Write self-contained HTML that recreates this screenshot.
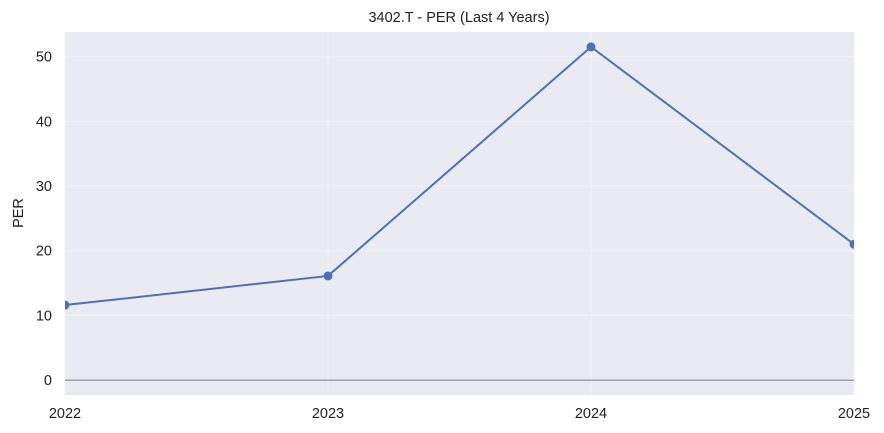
<!DOCTYPE html>
<html><head><meta charset="utf-8">
<style>
html,body{margin:0;padding:0;background:#fff;}
svg{display:block;font-family:"Liberation Sans","Noto Sans CJK JP",sans-serif;}
</style></head>
<body>
<svg id="chart" width="884" height="433" viewBox="0 0 884 433">
<defs><clipPath id="pc"><rect x="65" y="32" width="789" height="363"/></clipPath></defs>
<rect x="65" y="32" width="789" height="363" fill="#eaeaf2"/>
<g id="grid"></g>
<g id="axes"></g>
<g id="series" clip-path="url(#pc)"></g>
<text x="459" y="22" text-anchor="middle" font-size="14.5" fill="#222">3402.T - PER (Last 4 Years)</text>
<text x="23" y="213" text-anchor="middle" font-size="14.5" fill="#222" transform="rotate(-90 23 213)">PER</text>
</svg>
<script>
const categories = [2022, 2023, 2024, 2025];
const perValues = [11.6, 16.1, 51.5, 21.0];
const yTicks = [0, 10, 20, 30, 40, 50];
const NS = "http://www.w3.org/2000/svg";
const L = 65, R = 854, T = 32, B = 395;
const yMin = -2.3, yMax = 53.8;
const xScale = i => L + (R - L) * i / (categories.length - 1);
const yScale = v => B - (v - yMin) / (yMax - yMin) * (B - T);
function mk(tag, attrs, parent){const e=document.createElementNS(NS,tag);for(const k in attrs)e.setAttribute(k,attrs[k]);parent.appendChild(e);return e;}
const grid=document.getElementById('grid'), axes=document.getElementById('axes'), series=document.getElementById('series');
yTicks.forEach(t=>{
  const y=yScale(t);
  const g=mk('line',{x1:L,x2:R,y1:y,y2:y,stroke:'#f2f2f6','stroke-width':1},grid);
  
  
  const tx=mk('text',{x:52,y:y+5,'text-anchor':'end','font-size':14.5,fill:'#222'},axes);
  tx.textContent=t;
  
  
});
categories.forEach((c,i)=>{
  const x=xScale(i);
  const g=mk('line',{x1:x,x2:x,y1:T,y2:B,stroke:'#f2f2f6','stroke-width':1},grid);
  
  
  const tx=mk('text',{x:x,y:418,'text-anchor':'middle','font-size':14.5,fill:'#222'},axes);
  tx.textContent=c;
  
  
});
const zl=mk('line',{x1:L,x2:R,y1:yScale(0),y2:yScale(0),stroke:'#555','stroke-width':0.8},grid);


const pts=perValues.map((v,i)=>xScale(i)+','+yScale(v)).join(' ');
const pl=mk('polyline',{points:pts,fill:'none',stroke:'#4c72b0','stroke-width':2},series);


perValues.forEach((v,i)=>{
  const c=mk('circle',{cx:xScale(i),cy:yScale(v),r:4.5,fill:'#4c72b0'},series);
  
  
});
</script>
</body></html>
